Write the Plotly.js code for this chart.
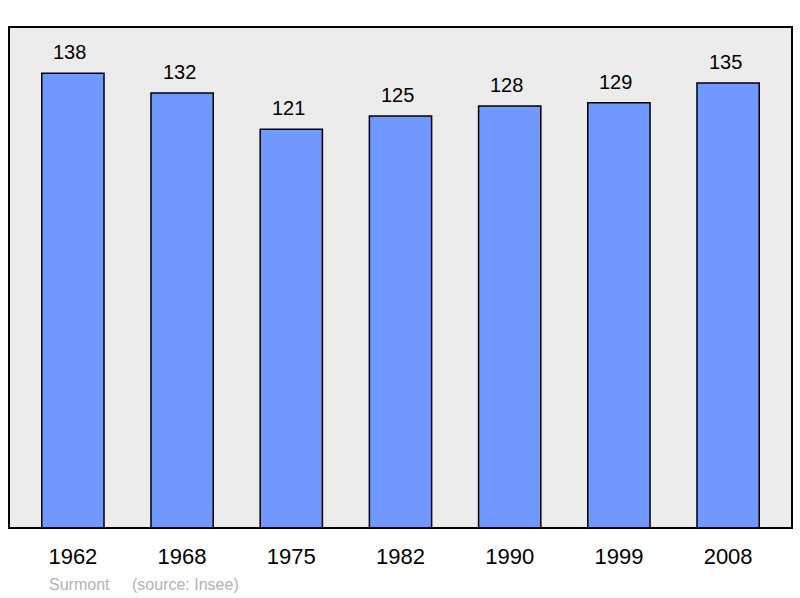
<!DOCTYPE html>
<html>
<head>
<meta charset="utf-8">
<script src="https://cdn.plot.ly/plotly-3.0.1.min.js"></script>
<style>html,body{margin:0;padding:0;background:#fff;}#chart{width:800px;height:598px;}</style>
</head>
<body>
<div id="chart"></div>
<script>
const years = ['1962', '1968', '1975', '1982', '1990', '1999', '2008'];
const population = [138, 132, 121, 125, 128, 129, 135];
const commune = 'Surmont';
const sourceText = '(source: Insee)';

const font = 'Liberation Sans, Arial, sans-serif';

const trace = {
  type: 'bar',
  x: years,
  y: population,
  width: 0.57,
  marker: { color: '#7098ff', line: { color: '#000', width: 1.5 } },
  hoverinfo: 'skip'
};

const annotations = years.map((yr, i) => ({
  x: i, y: population[i], xref: 'x', yref: 'y',
  text: String(population[i]), showarrow: false,
  yanchor: 'bottom', yshift: 8, xshift: -3,
  font: { family: font, size: 20, color: '#000' }
}));
annotations.push({
  xref: 'paper', yref: 'paper', x: 0.048, y: -0.1118, xanchor: 'left', yanchor: 'middle',
  text: commune, showarrow: false, font: { family: font, size: 16, color: '#b3b3b3' }
});
annotations.push({
  xref: 'paper', yref: 'paper', x: 0.155, y: -0.1118, xanchor: 'left', yanchor: 'middle',
  text: sourceText, showarrow: false, font: { family: font, size: 16, color: '#b3b3b3' }
});

const layout = {
  width: 800, height: 598,
  margin: { l: 9, r: 8, t: 27, b: 70 },
  paper_bgcolor: '#fff',
  plot_bgcolor: '#ececec',
  showlegend: false,
  xaxis: {
    type: 'category', range: [-0.585, 6.585],
    showgrid: false, zeroline: false, showline: false, ticks: '',
    tickfont: { family: font, size: 22, color: '#000' },
    ticklabelstandoff: 13
  },
  yaxis: {
    range: [0, 152], showgrid: false, zeroline: false, showline: false,
    showticklabels: false, ticks: ''
  },
  shapes: [{
    type: 'rect', xref: 'paper', yref: 'paper', x0: 0, x1: 1, y0: 0, y1: 1,
    line: { color: '#000', width: 2 }, fillcolor: 'rgba(0,0,0,0)'
  }],
  annotations: annotations
};

Plotly.newPlot('chart', [trace], layout, { displayModeBar: false, staticPlot: true });
</script>
</body>
</html>
